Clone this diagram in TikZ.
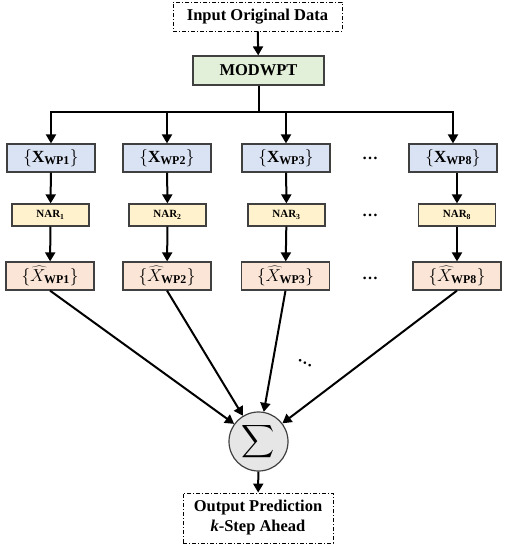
\documentclass[tikz,border=0pt]{standalone}
\usepackage{fontspec}
\usepackage{graphicx}
\setmainfont{Liberation Serif}
\usetikzlibrary{arrows.meta}
\definecolor{cblue}{HTML}{DAE3F3}
\definecolor{cgreen}{HTML}{E2F0D9}
\definecolor{cyellow}{HTML}{FFF2CC}
\definecolor{corange}{HTML}{FBE5D6}
\definecolor{cgray}{HTML}{E7E6E6}
\definecolor{cedge}{HTML}{404040}
\tikzset{
  box/.style={draw=cedge, line width=1.2pt, minimum width=88pt, minimum height=28pt, inner sep=0pt},
  xbox/.style={box, fill=cblue, font=\fontsize{17}{19}\selectfont},
  narbox/.style={box, fill=cyellow, minimum width=77pt, minimum height=22pt, font=\fontsize{11}{13}\selectfont\bfseries},
  hbox/.style={box, fill=corange, font=\fontsize{17}{19}\selectfont},
  dbox/.style={draw=black, line width=0.9pt, dash pattern=on 4pt off 2pt on 1pt off 2pt, inner sep=0pt, align=center, font=\fontsize{16.5}{20}\selectfont\bfseries},
  arr/.style={line width=2pt, -{Triangle[length=9pt,width=10pt]}},
  ln/.style={line width=2pt},
  dots/.style={font=\fontsize{16}{18}\selectfont\bfseries}
}
\begin{document}
\begin{tikzpicture}[x=1pt,y=-1pt]
\useasboundingbox (0,0) rectangle (506,550);
\node[dbox, minimum width=169pt, minimum height=29pt] (in) at (257.5,16.5) {Input Original Data};
\node[box, fill=cgreen, minimum width=131pt, minimum height=29pt, font=\fontsize{16.5}{20}\selectfont\bfseries] (mod) at (258.5,70.5) {MODWPT};
\coordinate (j) at (258.5,112);
% column 1
\node[xbox] (x1) at (51,158) {$\{\mathbf{X}_{\mathbf{WP1}}\}$};
\node[narbox] (n1) at (50.5,215) {NAR\textsubscript{1}};
\node[hbox] (h1) at (50,276) {$\{\widehat{X}_{\mathbf{WP1}}\}$};
% column 2
\node[xbox] (x2) at (167,158) {$\{\mathbf{X}_{\mathbf{WP2}}\}$};
\node[narbox] (n2) at (167.5,215) {NAR\textsubscript{2}};
\node[hbox] (h2) at (167,276) {$\{\widehat{X}_{\mathbf{WP2}}\}$};
% column 3
\node[xbox] (x3) at (286,158) {$\{\mathbf{X}_{\mathbf{WP3}}\}$};
\node[narbox] (n3) at (286.5,215) {NAR\textsubscript{3}};
\node[hbox] (h3) at (285.5,276) {$\{\widehat{X}_{\mathbf{WP3}}\}$};
% column 4
\node[xbox] (x8) at (453,158) {$\{\mathbf{X}_{\mathbf{WP8}}\}$};
\node[narbox] (n8) at (457,215) {NAR\textsubscript{8}};
\node[hbox] (h8) at (457,276) {$\{\widehat{X}_{\mathbf{WP8}}\}$};
% dots
\node[dots] (d1) at (370,158) {…};
\node[dots] (d2) at (370,215) {…};
\node[dots] (d3) at (370,278) {…};
\node[dots, rotate=-27] (d4) at (305,363) {…};
% sum
\node[circle, draw=cedge, line width=1.2pt, fill=cgray, minimum size=59pt, inner sep=0pt] (s) at (258.5,441.5) {\scalebox{2.3}{$\displaystyle\sum$}};
\node[dbox, minimum width=150pt, minimum height=50pt] (out) at (258,518) {Output Prediction\\\textit{k}-Step Ahead};
% connectors
\draw[arr] (in) -- (mod);
\draw[ln] (mod) -- (j);
\draw[arr] (j) -| (x1);
\draw[arr] (j) -| (x2);
\draw[arr] (j) -| (x3);
\draw[arr] (j) -| (x8);
\foreach \a/\b in {x1/n1,x2/n2,x3/n3,n1/h1,n2/h2,n3/h3}{\draw[arr] (\a) -- (\b);}
\draw[arr] (x8.south -| n8) -- (n8);
\draw[arr] (n8) -- (h8);
\foreach \h in {h1,h2,h3,h8}{\draw[arr] (\h.south) -- (s);}
\draw[arr] (s) -- (out);
\end{tikzpicture}
\end{document}
